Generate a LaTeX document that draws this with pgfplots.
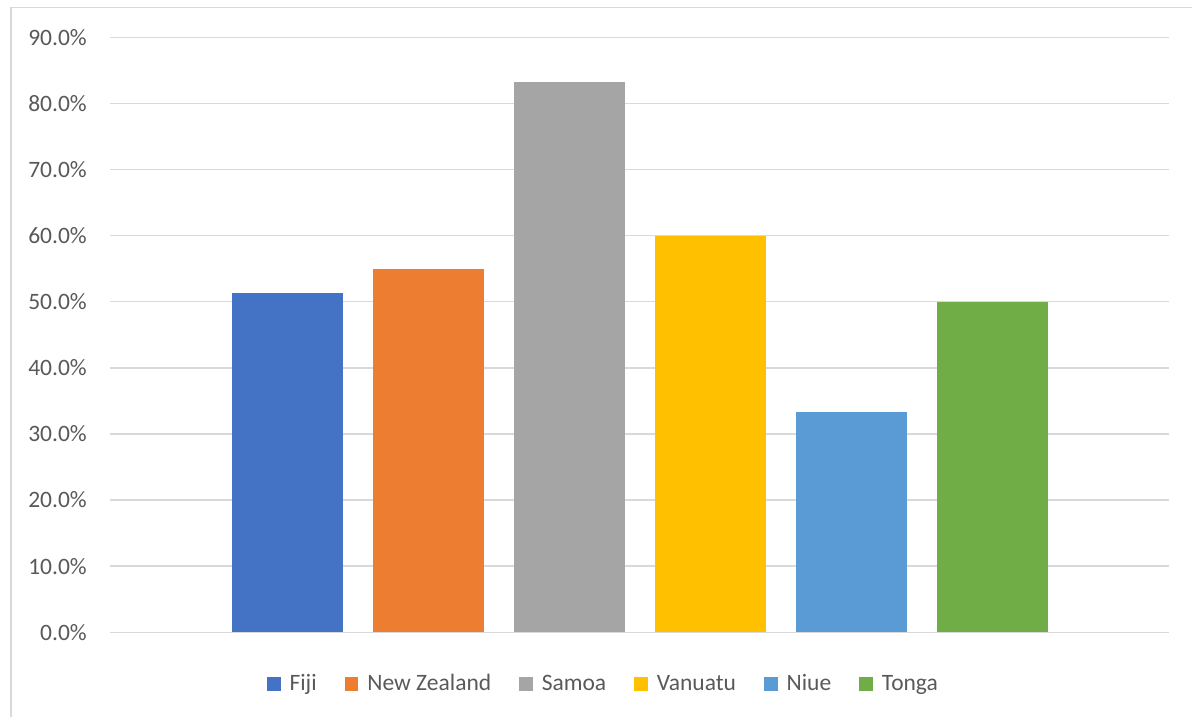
\documentclass[border=0pt]{standalone}
\usepackage{fontspec}
\setmainfont{Carlito}
\usepackage{pgfplots}
\pgfplotsset{compat=1.18}

\definecolor{cFiji}{HTML}{4472C4}
\definecolor{cNZ}{HTML}{ED7D31}
\definecolor{cSamoa}{HTML}{A5A5A5}
\definecolor{cVanuatu}{HTML}{FFC000}
\definecolor{cNiue}{HTML}{5B9BD5}
\definecolor{cTonga}{HTML}{70AD47}
\definecolor{txt}{HTML}{595959}
\definecolor{gridc}{HTML}{D9D9D9}

\begin{document}
\begin{tikzpicture}
\useasboundingbox (-55pt,-42.35pt) rectangle (541pt,316.15pt);
% chart frame (top and left edges)
\draw[gridc, line width=0.7pt] (-49.5pt,-42.35pt) -- (-49.5pt,312.5pt) -- (541pt,312.5pt);
\begin{axis}[
  at={(0,0)}, anchor=south west,
  scale only axis,
  width=529.35pt, height=297.5pt,
  ybar, bar width=55.5pt, bar shift=0pt,
  xmin=-0.26, xmax=7.254,
  ymin=0, ymax=90,
  xtick=\empty,
  ytick={0,10,...,90},
  yticklabels={0.0\%,10.0\%,20.0\%,30.0\%,40.0\%,50.0\%,60.0\%,70.0\%,80.0\%,90.0\%},
  ymajorgrids,
  grid style={gridc, line width=0.75pt},
  major tick length=0pt,
  axis line style={draw=none},
  yticklabel style={anchor=east, inner sep=0pt, xshift=-11.4pt, text=txt,
    font=\fontsize{11.75pt}{14pt}\selectfont},
  legend columns=6,
  legend style={at={(0.467,-0.087)}, anchor=center, draw=none, fill=none,
    font=\fontsize{11.75pt}{14pt}\selectfont, text=txt,
    inner sep=0pt,
    /tikz/every odd column/.append style={column sep=2.5pt},
    /tikz/every even column/.append style={column sep=12pt}},
  legend cell align=left,
  legend image code/.code={\fill[#1] (0pt,-3.4pt) rectangle (6.8pt,3.4pt);},
]
\addplot[fill=cFiji, draw=none] coordinates {(1,51.3)};
\addplot[fill=cNZ, draw=none] coordinates {(2,54.9)};
\addplot[fill=cSamoa, draw=none] coordinates {(3,83.3)};
\addplot[fill=cVanuatu, draw=none] coordinates {(4,60.0)};
\addplot[fill=cNiue, draw=none] coordinates {(5,33.3)};
\addplot[fill=cTonga, draw=none] coordinates {(6,50.0)};
\legend{Fiji, New Zealand, Samoa, Vanuatu, Niue, Tonga}
\end{axis}
\end{tikzpicture}
\end{document}
